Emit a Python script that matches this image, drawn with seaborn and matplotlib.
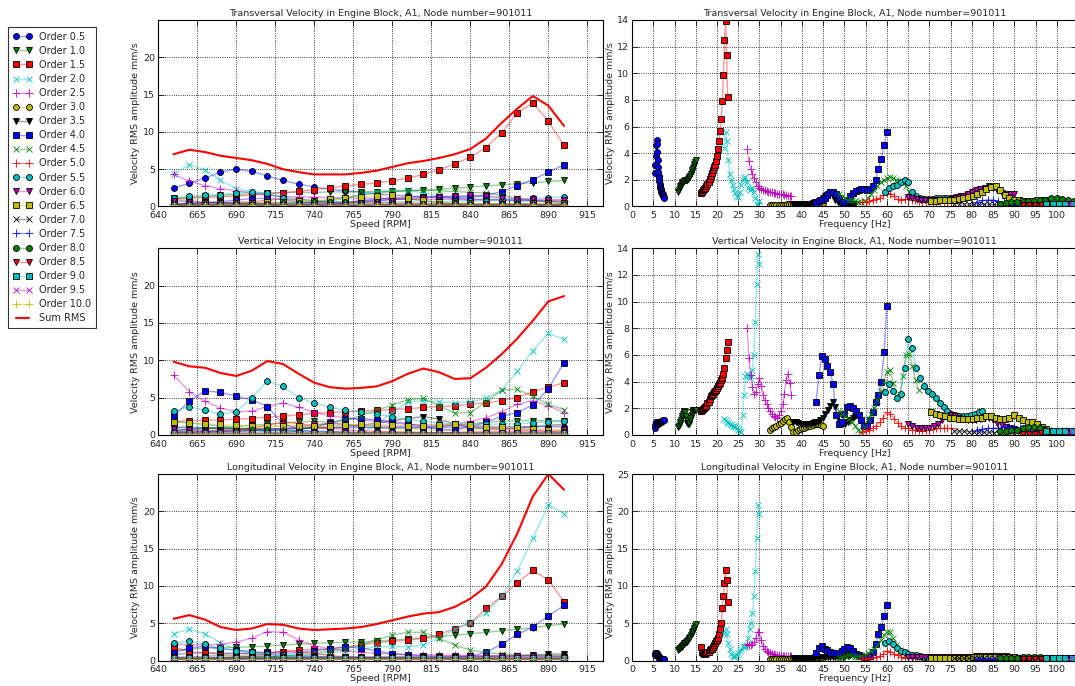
import matplotlib
matplotlib.use("Agg")
import numpy as np
import pandas as pd
import matplotlib.pyplot as plt
import seaborn as sns

# speed grid (RPM) and orders
rpm = [650, 660, 670, 680, 690, 700, 710, 720, 730, 740, 750, 760, 770,
       780, 790, 800, 810, 820, 830, 840, 850, 860, 870, 880, 890, 900]
orders = [0.5, 1.0, 1.5, 2.0, 2.5, 3.0, 3.5, 4.0, 4.5, 5.0,
          5.5, 6.0, 6.5, 7.0, 7.5, 8.0, 8.5, 9.0, 9.5, 10.0]

# Transversal
tr_05 = [2.5, 3.1, 3.8, 4.6, 5.0, 4.7, 4.1, 3.5, 3.0, 2.6, 2.3, 2.1, 1.9, 1.7, 1.55, 1.4, 1.3, 1.2, 1.1, 1.0, 0.95, 0.9, 0.8, 0.75, 0.7, 0.6]
tr_10 = [1.1, 1.2, 1.35, 1.5, 1.6, 1.7, 1.8, 1.85, 1.9, 1.9, 1.95, 1.95, 2.0, 2.0, 2.05, 2.1, 2.2, 2.3, 2.45, 2.6, 2.75, 2.9, 3.05, 3.2, 3.35, 3.5]
tr_15 = [1.0, 1.1, 1.2, 1.3, 1.4, 1.5, 1.7, 1.85, 2.05, 2.25, 2.5, 2.75, 2.95, 3.15, 3.45, 3.8, 4.3, 4.9, 5.7, 6.6, 7.9, 9.9, 12.5, 13.9, 11.4, 8.2]
tr_20 = [4.4, 5.6, 4.9, 3.5, 2.4, 2.0, 1.6, 1.3, 1.0, 0.8, 0.7, 1.1, 1.6, 2.0, 2.1, 2.2, 1.8, 1.4, 1.2, 1.3, 1.4, 1.1, 0.6, 0.2, 0.1, 0.4]
tr_25 = [4.3, 3.4, 2.8, 2.4, 2.1, 1.8, 1.5, 1.35, 1.3, 1.25, 1.2, 1.15, 1.1, 1.1, 1.05, 1.0, 1.0, 0.95, 0.95, 0.9, 0.9, 0.85, 0.85, 0.8, 0.8, 0.8]
tr_30 = [0.1, 0.1, 0.12, 0.12, 0.13, 0.13, 0.14, 0.14, 0.15, 0.15, 0.15, 0.16, 0.16, 0.17, 0.17, 0.18, 0.18, 0.19, 0.2, 0.2, 0.21, 0.22, 0.22, 0.23, 0.24, 0.25]
tr_35 = [0.2, 0.2, 0.2, 0.2, 0.2, 0.2, 0.2, 0.22, 0.25, 0.3, 0.35, 0.45, 0.6, 0.8, 0.95, 1.0, 0.8, 0.5, 0.35, 0.3, 0.25, 0.25, 0.25, 0.2, 0.2, 0.2]
tr_40 = [0.25, 0.4, 0.5, 0.65, 0.85, 1.05, 1.1, 0.95, 0.6, 0.35, 0.3, 0.5, 0.8, 1.0, 1.15, 1.25, 1.3, 1.3, 1.25, 1.3, 1.5, 2.0, 2.8, 3.6, 4.6, 5.6]
tr_45 = [0.9, 0.8, 0.6, 0.5, 0.45, 0.4, 0.35, 0.3, 0.4, 0.6, 0.9, 1.2, 1.5, 1.8, 2.0, 2.1, 2.2, 2.1, 2.0, 1.9, 1.8, 1.5, 1.1, 0.8, 0.6, 0.5]
tr_50 = [0.3, 0.35, 0.4, 0.5, 0.55, 0.65, 0.85, 1.0, 0.95, 0.75, 0.55, 0.5, 0.55, 0.55, 0.5, 0.45, 0.4, 0.35, 0.3, 0.3, 0.3, 0.3, 0.25, 0.25, 0.25, 0.25]
tr_55 = [1.1, 1.4, 1.5, 1.6, 1.8, 2.0, 1.8, 1.1, 0.75, 0.6, 0.55, 0.55, 0.55, 0.6, 0.6, 0.6, 0.6, 0.65, 0.7, 0.75, 0.8, 0.9, 1.0, 1.1, 1.2, 1.3]
tr_60 = [0.7, 0.65, 0.55, 0.5, 0.5, 0.5, 0.5, 0.5, 0.5, 0.5, 0.55, 0.6, 0.7, 0.8, 0.9, 1.05, 1.2, 1.3, 1.4, 1.5, 1.4, 1.2, 1.0, 0.95, 0.9, 0.9]
tr_65 = [0.4, 0.4, 0.45, 0.45, 0.5, 0.5, 0.55, 0.6, 0.7, 0.8, 0.95, 1.1, 1.3, 1.45, 1.5, 1.2, 0.85, 0.6, 0.5, 0.45, 0.4, 0.4, 0.4, 0.45, 0.5, 0.5]
tr_70 = [0.2, 0.2, 0.18, 0.18, 0.17, 0.17, 0.16, 0.16, 0.15, 0.15, 0.15, 0.15, 0.15, 0.15, 0.15, 0.16, 0.16, 0.17, 0.17, 0.18, 0.18, 0.19, 0.2, 0.2, 0.21, 0.22]
tr_75 = [0.3, 0.45, 0.5, 0.5, 0.4, 0.3, 0.25, 0.22, 0.2, 0.2, 0.2, 0.2, 0.2, 0.21, 0.21, 0.22, 0.22, 0.22, 0.23, 0.23, 0.23, 0.24, 0.24, 0.25, 0.25, 0.25]
tr_80 = [0.2, 0.25, 0.3, 0.3, 0.35, 0.4, 0.4, 0.45, 0.5, 0.6, 0.6, 0.55, 0.45, 0.4, 0.35, 0.3, 0.3, 0.3, 0.3, 0.3, 0.3, 0.3, 0.3, 0.3, 0.3, 0.3]
tr_85 = [0.12, 0.12, 0.13, 0.13, 0.14, 0.14, 0.15, 0.15, 0.15, 0.15, 0.15, 0.15, 0.15, 0.15, 0.15, 0.15, 0.15, 0.15, 0.15, 0.15, 0.15, 0.15, 0.15, 0.15, 0.15, 0.15]
tr_90 = [0.2, 0.2, 0.2, 0.2, 0.22, 0.22, 0.22, 0.22, 0.24, 0.24, 0.24, 0.24, 0.25, 0.25, 0.25, 0.25, 0.25, 0.25, 0.25, 0.25, 0.25, 0.25, 0.25, 0.25, 0.25, 0.25]
tr_95 = [0.15, 0.15, 0.16, 0.16, 0.17, 0.17, 0.18, 0.18, 0.19, 0.19, 0.2, 0.2, 0.2, 0.2, 0.2, 0.2, 0.2, 0.2, 0.2, 0.2, 0.2, 0.2, 0.2, 0.2, 0.2, 0.2]
tr_100 = [0.15, 0.15, 0.15, 0.15, 0.16, 0.16, 0.16, 0.16, 0.17, 0.17, 0.17, 0.17, 0.18, 0.18, 0.18, 0.18, 0.18, 0.18, 0.18, 0.18, 0.18, 0.18, 0.18, 0.18, 0.18, 0.18]
tr_sum = [7.0, 7.6, 7.3, 6.8, 6.5, 6.2, 5.7, 5.0, 4.6, 4.3, 4.3, 4.3, 4.5, 4.8, 5.3, 5.8, 6.1, 6.5, 7.0, 7.7, 9.1, 11.2, 13.1, 14.8, 13.5, 10.8]

# Vertical
ve_05 = [0.5, 0.75, 1.0, 0.95, 0.85, 0.8, 0.8, 0.8, 0.85, 0.9, 0.95, 0.95, 1.0, 1.0, 1.0, 1.0, 1.0, 1.0, 1.05, 1.05, 1.05, 1.1, 1.1, 1.1, 1.1, 1.1]
ve_10 = [0.6, 0.65, 0.8, 0.95, 1.1, 1.3, 1.45, 1.6, 1.75, 1.8, 1.7, 1.4, 1.1, 0.9, 0.85, 0.85, 0.9, 1.1, 1.3, 1.5, 1.7, 1.85, 1.9, 1.9, 1.9, 1.9]
ve_15 = [1.8, 1.9, 1.95, 2.0, 2.1, 2.2, 2.4, 2.5, 2.7, 2.9, 3.0, 3.1, 3.2, 3.3, 3.4, 3.5, 3.7, 3.8, 3.9, 4.1, 4.3, 4.6, 5.0, 5.8, 6.4, 7.0]
ve_20 = [1.2, 1.1, 1.0, 0.9, 0.8, 0.75, 0.7, 0.7, 0.6, 0.5, 0.4, 0.3, 0.2, 1.5, 3.0, 4.4, 4.6, 4.4, 4.3, 4.4, 4.9, 6.0, 8.5, 11.3, 13.6, 12.8]
ve_25 = [8.0, 5.8, 4.5, 3.6, 3.1, 3.2, 3.8, 4.3, 3.7, 3.0, 2.6, 2.3, 2.0, 1.8, 1.6, 1.4, 1.35, 1.3, 1.5, 1.8, 2.3, 3.1, 4.1, 4.6, 3.9, 3.0]
ve_30 = [0.4, 0.5, 0.6, 0.7, 0.8, 0.9, 1.05, 1.2, 1.3, 1.0, 0.6, 0.2, 0.25, 0.35, 0.45, 0.5, 0.55, 0.6, 0.65, 0.7, 0.75, 0.8, 0.8, 0.8, 0.75, 0.7]
ve_35 = [1.0, 0.95, 0.9, 0.85, 0.8, 0.8, 0.8, 0.85, 0.9, 0.95, 1.0, 1.1, 1.3, 1.6, 1.9, 2.2, 2.45, 2.1, 1.5, 1.0, 0.8, 0.8, 0.95, 1.1, 1.3, 1.4]
ve_40 = [2.5, 4.5, 5.9, 5.7, 5.2, 4.7, 3.8, 1.5, 0.8, 1.0, 1.6, 2.1, 2.2, 2.0, 1.8, 1.5, 1.1, 0.7, 0.7, 1.1, 1.7, 2.5, 3.0, 4.0, 6.2, 9.7]
ve_45 = [1.8, 1.6, 1.4, 1.2, 0.95, 0.7, 0.4, 0.2, 0.6, 1.2, 1.6, 2.0, 2.6, 3.3, 4.0, 4.7, 4.9, 3.9, 2.9, 3.0, 4.4, 6.0, 6.1, 5.2, 4.1, 3.4]
ve_50 = [0.2, 0.3, 0.4, 0.55, 0.7, 0.95, 1.3, 1.7, 1.55, 1.2, 0.9, 0.7, 0.55, 0.5, 0.4, 0.35, 0.3, 0.3, 0.35, 0.4, 0.45, 0.5, 0.5, 0.5, 0.5, 0.5]
ve_55 = [3.2, 3.8, 3.3, 2.8, 3.1, 5.0, 7.2, 6.5, 5.0, 4.3, 3.7, 3.3, 3.1, 2.8, 2.4, 2.1, 1.8, 1.6, 1.5, 1.45, 1.45, 1.45, 1.5, 1.6, 1.75, 1.8]
ve_60 = [0.8, 0.7, 0.55, 0.5, 0.5, 0.55, 0.65, 0.8, 1.1, 1.4, 1.5, 1.4, 1.3, 1.2, 1.15, 1.1, 1.1, 1.2, 1.3, 1.25, 1.1, 0.9, 0.75, 0.6, 0.5, 0.45]
ve_65 = [1.7, 1.6, 1.5, 1.4, 1.3, 1.25, 1.2, 1.2, 1.2, 1.2, 1.25, 1.3, 1.4, 1.4, 1.3, 1.2, 1.2, 1.3, 1.5, 1.3, 1.1, 1.0, 0.95, 0.8, 0.6, 0.45]
ve_70 = [0.3, 0.28, 0.26, 0.25, 0.24, 0.22, 0.2, 0.2, 0.18, 0.18, 0.17, 0.17, 0.16, 0.16, 0.15, 0.15, 0.15, 0.15, 0.15, 0.15, 0.15, 0.15, 0.15, 0.15, 0.15, 0.15]
ve_75 = [0.4, 0.45, 0.5, 0.5, 0.55, 0.6, 0.6, 0.6, 0.55, 0.5, 0.45, 0.4, 0.35, 0.3, 0.3, 0.3, 0.3, 0.3, 0.3, 0.3, 0.3, 0.3, 0.3, 0.3, 0.3, 0.3]
ve_80 = [0.3, 0.3, 0.35, 0.4, 0.5, 0.6, 0.6, 0.5, 0.4, 0.3, 0.3, 0.25, 0.25, 0.25, 0.25, 0.25, 0.25, 0.25, 0.25, 0.25, 0.25, 0.25, 0.25, 0.25, 0.25, 0.25]
ve_85 = [0.1, 0.1, 0.1, 0.12, 0.12, 0.12, 0.12, 0.13, 0.13, 0.13, 0.14, 0.14, 0.14, 0.15, 0.15, 0.15, 0.15, 0.15, 0.15, 0.15, 0.15, 0.15, 0.15, 0.15, 0.15, 0.15]
ve_90 = [0.3, 0.3, 0.28, 0.28, 0.26, 0.26, 0.25, 0.25, 0.25, 0.25, 0.25, 0.25, 0.25, 0.25, 0.25, 0.25, 0.25, 0.25, 0.25, 0.25, 0.25, 0.25, 0.25, 0.25, 0.25, 0.25]
ve_95 = [0.2, 0.2, 0.2, 0.2, 0.2, 0.2, 0.2, 0.2, 0.2, 0.2, 0.2, 0.2, 0.2, 0.2, 0.2, 0.2, 0.2, 0.2, 0.2, 0.2, 0.2, 0.2, 0.2, 0.2, 0.2, 0.2]
ve_100 = [0.15, 0.15, 0.15, 0.16, 0.16, 0.16, 0.17, 0.17, 0.17, 0.18, 0.18, 0.18, 0.18, 0.18, 0.18, 0.18, 0.18, 0.18, 0.18, 0.18, 0.18, 0.18, 0.18, 0.18, 0.18, 0.18]
ve_sum = [9.8, 9.2, 9.0, 8.3, 7.9, 8.6, 9.9, 9.5, 8.2, 7.0, 6.4, 6.2, 6.3, 6.5, 7.2, 8.2, 8.9, 8.4, 7.5, 7.6, 9.0, 10.8, 12.9, 15.3, 17.9, 18.6]

# Longitudinal
lo_05 = [0.8, 1.0, 1.05, 1.0, 1.0, 0.9, 0.8, 0.7, 0.6, 0.55, 0.5, 0.45, 0.4, 0.35, 0.3, 0.3, 0.25, 0.25, 0.2, 0.2, 0.2, 0.2, 0.2, 0.2, 0.2, 0.2]
lo_10 = [1.4, 1.55, 1.65, 1.75, 1.8, 1.85, 1.95, 2.1, 2.2, 2.3, 2.4, 2.45, 2.5, 2.6, 2.75, 2.9, 3.05, 3.2, 3.4, 3.6, 3.8, 4.0, 4.2, 4.4, 4.7, 4.9]
lo_15 = [1.8, 1.2, 1.0, 0.9, 0.9, 1.0, 1.1, 1.2, 1.4, 1.5, 1.6, 1.8, 2.1, 2.4, 2.6, 2.7, 3.0, 3.5, 4.3, 5.0, 7.0, 8.6, 10.4, 12.1, 10.8, 7.9]
lo_20 = [3.6, 4.2, 3.6, 2.4, 1.5, 0.9, 0.6, 0.45, 0.6, 0.8, 1.0, 1.3, 1.6, 1.8, 1.9, 1.85, 2.1, 3.0, 4.2, 5.1, 6.4, 8.6, 12.0, 16.4, 20.9, 19.7]
lo_25 = [2.2, 2.15, 2.1, 2.2, 2.5, 3.0, 3.9, 3.8, 2.8, 2.0, 1.6, 1.3, 1.1, 1.0, 0.9, 0.85, 0.8, 0.75, 0.7, 0.7, 0.65, 0.65, 0.6, 0.6, 0.6, 0.6]
lo_30 = [0.2, 0.2, 0.22, 0.22, 0.24, 0.25, 0.25, 0.26, 0.27, 0.28, 0.3, 0.3, 0.3, 0.3, 0.3, 0.3, 0.3, 0.3, 0.3, 0.3, 0.3, 0.3, 0.3, 0.3, 0.3, 0.3]
lo_35 = [0.3, 0.3, 0.32, 0.34, 0.35, 0.36, 0.38, 0.4, 0.4, 0.42, 0.44, 0.45, 0.45, 0.45, 0.45, 0.45, 0.45, 0.45, 0.5, 0.5, 0.55, 0.6, 0.65, 0.75, 0.85, 0.9]
lo_40 = [1.0, 1.7, 1.9, 1.6, 1.4, 1.2, 1.05, 1.0, 1.05, 1.3, 1.6, 1.85, 1.7, 1.3, 0.95, 0.75, 0.6, 0.5, 0.5, 0.6, 1.1, 2.2, 3.5, 4.5, 6.0, 7.4]
lo_45 = [0.4, 0.5, 0.6, 0.7, 0.65, 0.55, 0.5, 0.6, 0.8, 1.0, 1.3, 1.6, 2.1, 2.8, 3.4, 3.8, 3.8, 3.0, 2.1, 1.4, 1.1, 0.9, 0.8, 0.7, 0.65, 0.6]
lo_50 = [0.2, 0.25, 0.3, 0.35, 0.45, 0.6, 0.9, 1.3, 1.2, 0.95, 0.7, 0.5, 0.4, 0.35, 0.3, 0.3, 0.3, 0.3, 0.3, 0.3, 0.3, 0.3, 0.3, 0.3, 0.3, 0.3]
lo_55 = [2.3, 2.65, 2.2, 1.7, 1.35, 1.1, 0.95, 0.8, 0.7, 0.6, 0.55, 0.5, 0.45, 0.4, 0.4, 0.35, 0.35, 0.35, 0.3, 0.3, 0.3, 0.3, 0.3, 0.3, 0.3, 0.3]
lo_60 = [0.45, 0.45, 0.45, 0.45, 0.45, 0.45, 0.45, 0.45, 0.45, 0.5, 0.5, 0.5, 0.5, 0.5, 0.55, 0.55, 0.6, 0.6, 0.6, 0.6, 0.6, 0.6, 0.6, 0.6, 0.55, 0.55]
lo_65 = [0.3, 0.3, 0.3, 0.32, 0.34, 0.35, 0.36, 0.38, 0.4, 0.42, 0.45, 0.45, 0.48, 0.5, 0.5, 0.5, 0.48, 0.45, 0.42, 0.4, 0.38, 0.36, 0.35, 0.35, 0.35, 0.35]
lo_70 = [0.3, 0.3, 0.3, 0.3, 0.3, 0.3, 0.3, 0.3, 0.3, 0.3, 0.3, 0.3, 0.3, 0.3, 0.3, 0.3, 0.3, 0.3, 0.3, 0.3, 0.3, 0.3, 0.3, 0.3, 0.3, 0.3]
lo_75 = [0.25, 0.25, 0.26, 0.26, 0.27, 0.27, 0.28, 0.28, 0.29, 0.29, 0.3, 0.3, 0.3, 0.3, 0.3, 0.3, 0.3, 0.3, 0.3, 0.3, 0.3, 0.3, 0.3, 0.3, 0.3, 0.3]
lo_80 = [0.3, 0.3, 0.35, 0.4, 0.45, 0.5, 0.5, 0.45, 0.4, 0.35, 0.3, 0.3, 0.3, 0.3, 0.3, 0.3, 0.3, 0.3, 0.3, 0.3, 0.3, 0.3, 0.3, 0.3, 0.3, 0.3]
lo_85 = [0.2, 0.2, 0.2, 0.2, 0.2, 0.2, 0.2, 0.2, 0.2, 0.2, 0.2, 0.2, 0.2, 0.2, 0.2, 0.2, 0.2, 0.2, 0.2, 0.2, 0.2, 0.2, 0.2, 0.2, 0.2, 0.2]
lo_90 = [0.3, 0.3, 0.3, 0.3, 0.3, 0.3, 0.3, 0.3, 0.3, 0.3, 0.3, 0.3, 0.3, 0.3, 0.3, 0.3, 0.3, 0.3, 0.3, 0.3, 0.3, 0.3, 0.3, 0.3, 0.3, 0.3]
lo_95 = [0.2, 0.2, 0.2, 0.2, 0.2, 0.2, 0.2, 0.2, 0.2, 0.2, 0.2, 0.2, 0.2, 0.2, 0.2, 0.2, 0.2, 0.2, 0.2, 0.2, 0.2, 0.2, 0.2, 0.2, 0.2, 0.2]
lo_100 = [0.2, 0.2, 0.2, 0.2, 0.2, 0.2, 0.2, 0.2, 0.2, 0.2, 0.2, 0.2, 0.2, 0.2, 0.2, 0.2, 0.2, 0.2, 0.2, 0.2, 0.2, 0.2, 0.2, 0.2, 0.2, 0.2]
lo_sum = [5.6, 6.1, 5.5, 4.5, 4.1, 4.3, 4.9, 4.8, 4.3, 4.1, 4.2, 4.3, 4.5, 4.9, 5.4, 5.9, 6.3, 6.5, 7.2, 8.3, 9.9, 12.9, 17.0, 22.0, 25.0, 22.9]

trans = [tr_05, tr_10, tr_15, tr_20, tr_25, tr_30, tr_35, tr_40, tr_45, tr_50,
         tr_55, tr_60, tr_65, tr_70, tr_75, tr_80, tr_85, tr_90, tr_95, tr_100]
vert = [ve_05, ve_10, ve_15, ve_20, ve_25, ve_30, ve_35, ve_40, ve_45, ve_50,
        ve_55, ve_60, ve_65, ve_70, ve_75, ve_80, ve_85, ve_90, ve_95, ve_100]
longi = [lo_05, lo_10, lo_15, lo_20, lo_25, lo_30, lo_35, lo_40, lo_45, lo_50,
         lo_55, lo_60, lo_65, lo_70, lo_75, lo_80, lo_85, lo_90, lo_95, lo_100]

# classic matplotlib colours / markers
base = {"b": (0, 0, 1), "g": (0, 0.5, 0), "r": (1, 0, 0), "c": (0, 0.75, 0.75),
        "m": (0.75, 0, 0.75), "y": (0.75, 0.75, 0), "k": (0, 0, 0)}
color_cycle = ["b", "g", "r", "c", "m", "y", "k"]
marker_cycle = ["o", "v", "s", "x", "+"]

sns.set_style("white", {"axes.edgecolor": "black"})
plt.rcParams["font.family"] = ["DejaVu Sans"]

fig = plt.figure(figsize=(10.75, 6.86), dpi=100)

rows = [
    ("Transversal", trans, tr_sum, 0.699, 14, 2),
    ("Vertical", vert, ve_sum, 0.366, 14, 2),
    ("Longitudinal", longi, lo_sum, 0.037, 25, 5),
]

fs = 6.8
handles = []
for r, (name, data, total, bottom, rtop, rstep) in enumerate(rows):
    axl = fig.add_axes([0.147, bottom, 0.414, 0.272])
    axr = fig.add_axes([0.588, bottom, 0.414, 0.272])
    for i, (order, vals) in enumerate(zip(orders, data)):
        col = base[color_cycle[i % 7]]
        mk = marker_cycle[i % 5]
        edge = col if mk in ("x", "+") else "black"
        ms = 5.5 if mk == "+" else 4.3
        style = dict(marker=mk, markersize=ms, markerfacecolor=col,
                     markeredgecolor=edge, markeredgewidth=0.6, linewidth=1.0,
                     color=col + (0.4,), legend=False, sort=False, estimator=None)
        sns.lineplot(x=rpm, y=vals, ax=axl, **style)
        if r == 0:
            handles.append(axl.lines[-1])
        freq = [order * s / 60.0 for s in rpm]
        sns.lineplot(x=freq, y=vals, ax=axr, **style)
    sns.lineplot(x=rpm, y=total, ax=axl, color="red", linewidth=1.5,
                 legend=False, sort=False, estimator=None)
    if r == 0:
        handles.append(axl.lines[-1])

    title = name + " Velocity in Engine Block, A1, Node number=901011"
    axl.set_xlim(640, 925)
    axl.set_ylim(0, 25)
    axl.set_xticks(range(640, 925, 25))
    axl.set_yticks(range(0, 25, 5))
    axl.set_xlabel("Speed [RPM]", fontsize=fs, labelpad=0)
    axr.set_xlim(0, 104.8)
    axr.set_ylim(0, rtop)
    axr.set_xticks(range(0, 105, 5))
    axr.set_yticks(range(0, rtop + 1, rstep))
    axr.set_xlabel("Frequency [Hz]", fontsize=fs, labelpad=0)
    for ax in (axl, axr):
        ax.set_title(title, fontsize=fs, pad=3)
        ax.set_ylabel("Velocity RMS amplitude mm/s", fontsize=fs, labelpad=2)
        ax.grid(True, linestyle=":", color="black", linewidth=0.6)
        ax.tick_params(direction="in", top=True, right=True, bottom=True, left=True,
                       length=4, width=0.7, labelsize=fs)
        ax.tick_params(axis="x", pad=3.5)
        ax.tick_params(axis="y", pad=2)
        for sp in ax.spines.values():
            sp.set_linewidth(0.8)

labels = ["Order %.1f" % o for o in orders] + ["Sum RMS"]
leg = fig.legend(handles, labels, loc="upper left", bbox_to_anchor=(0.003, 0.968),
                 fontsize=fs + 0.2, numpoints=2, handlelength=1.9, labelspacing=0.42,
                 frameon=True, fancybox=False, borderpad=0.5, handletextpad=0.8)
leg.get_frame().set_edgecolor("black")
leg.get_frame().set_linewidth(0.8)

fig.savefig("out.png", dpi=100)
